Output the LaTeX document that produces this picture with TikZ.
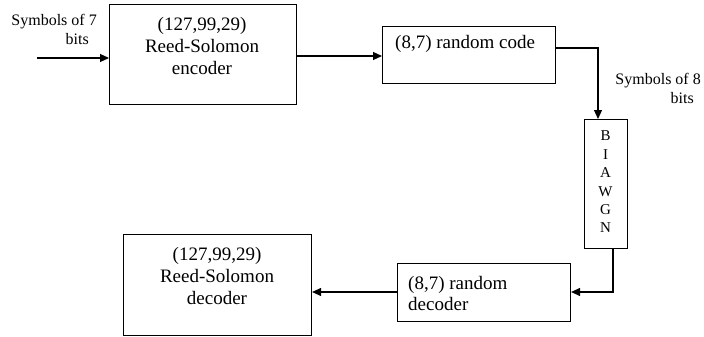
\documentclass[tikz,border=0pt]{standalone}
\usepackage{fontspec}
\setmainfont{Liberation Serif}
\usetikzlibrary{arrows.meta,calc}
\tikzset{
  blk/.style={draw, line width=1.1pt, inner sep=0pt, anchor=north west},
  btxt/.style={font=\fontsize{19}{22}\selectfont, inner sep=0pt, align=center},
  ltxt/.style={font=\fontsize{19}{21}\selectfont, inner sep=0pt, align=left},
  stxt/.style={font=\fontsize{16}{19}\selectfont, inner sep=0pt, align=right},
  arr/.style={line width=1.1pt, -{Triangle[length=9pt,width=8pt]}},
  ln/.style={line width=1.1pt}
}
\begin{document}
\begin{tikzpicture}[x=1pt,y=-1pt]
\useasboundingbox (0,0) rectangle (704,337);
% boxes
\node[blk, minimum width=187pt, minimum height=100pt] (enc) at (109,4) {};
\node[blk, minimum width=173pt, minimum height=57pt] (rc) at (382,26) {};
\node[blk, minimum width=43pt, minimum height=129pt] (awgn) at (584,119) {};
\node[blk, minimum width=173pt, minimum height=58pt] (rdec) at (397,263) {};
\node[blk, minimum width=188pt, minimum height=101pt] (dec) at (123,234) {};
% texts
\node[btxt] (enct) at (202,46) {(127,99,29)\\Reed-Solomon\\encoder};
\node[btxt, anchor=west] (rct) at (395,44) {(8,7) random code};
\node[font=\fontsize{15}{18.4}\selectfont, inner sep=0pt, align=center] (awgnt) at (605.5,182) {B\\I\\A\\W\\G\\N};
\node[ltxt, anchor=west] (rdect) at (408,293) {(8,7) random\\decoder};
\node[btxt] (dect) at (217,276) {(127,99,29)\\Reed-Solomon\\decoder};
\node[stxt, anchor=east] (lab7) at (97,29) {Symbols of 7\\bits\hspace*{8pt}};
\node[stxt, anchor=east] (lab8) at (701,88) {Symbols of 8\\bits\hspace*{7pt}};
% connectors
\coordinate (in) at (37,58);
\draw[arr] (in) -- (in -| enc.west);
\coordinate (e1) at (enc.east |- 0,56);
\draw[arr] (e1) -- (e1 -| rc.west);
\coordinate (r1) at (rc.east |- 0,48);
\coordinate (r2) at (598,48);
\draw[arr] (r1) -- (r2) -- (r2 |- awgn.north);
\coordinate (w1) at (613,248);
\coordinate (w2) at (613,292);
\draw[arr] (w1) -- (w2) -- (w2 -| rdec.east);
\coordinate (d1) at (rdec.west |- 0,292);
\draw[arr] (d1) -- (d1 -| dec.east);
\end{tikzpicture}
\end{document}
